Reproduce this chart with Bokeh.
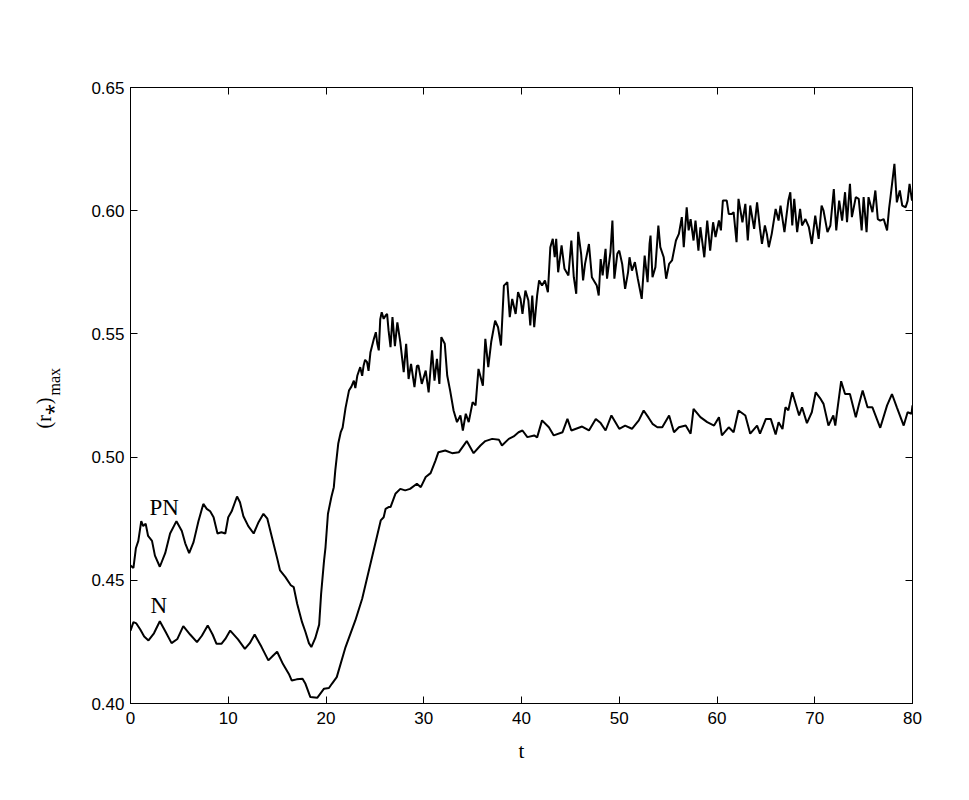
from bokeh.plotting import figure
from bokeh.models import LinearAxis, Range1d, FixedTicker, CustomJSTickFormatter, Title
from bokeh.core.properties import value
from bokeh.embed import file_html
from bokeh.resources import INLINE

# ---- data ----
pn_t = [0.0, 0.3, 0.55, 0.8, 1.1, 1.3, 1.55, 1.8, 2.2, 2.5, 3.0, 3.55, 4.05, 4.7, 5.25, 5.6, 6.0, 6.45,
        6.95, 7.45, 7.8, 8.15, 8.5, 8.9, 9.3, 9.7, 10.0, 10.35, 10.9, 11.2, 11.55, 12.05, 12.6, 13.1,
        13.6, 14.0, 14.5, 15.0, 15.3, 15.85, 16.4, 16.7, 17.05, 17.55, 17.9, 18.25, 18.5, 18.9, 19.3,
        19.5, 19.8, 19.95, 20.2, 20.55, 20.8, 20.95, 21.25, 21.5, 21.7, 22.0, 22.35, 22.6, 22.85, 23.0,
        23.2, 23.5, 23.7, 23.85, 24.0, 24.2, 24.35, 24.55, 24.9, 25.1, 25.25, 25.4, 25.55, 25.7, 25.9,
        26.1, 26.25, 26.4, 26.6, 26.8, 27.05, 27.3, 27.6, 27.95, 28.2, 28.45, 28.7, 29.05, 29.3, 29.45,
        29.8, 30.2, 30.5, 30.85, 31.1, 31.35, 31.6, 31.8, 32.15, 32.4, 32.7, 33.05, 33.4, 33.75, 34.0,
        34.3, 34.6, 35.0, 35.3, 35.6, 36.05, 36.3, 36.6, 36.9, 37.3, 37.6, 37.9, 38.2, 38.55, 38.8,
        39.05, 39.4, 39.65, 39.9, 40.1, 40.4, 40.7, 40.9, 41.1, 41.3, 41.6, 41.8, 42.1, 42.4, 42.7,
        42.95, 43.2, 43.4, 43.55, 43.75, 44.1, 44.4, 44.8, 45.1, 45.35, 45.6, 45.8, 46.1, 46.3, 46.5,
        46.9, 47.2, 47.5, 47.7, 47.9, 48.1, 48.3, 48.6, 48.75, 49.1, 49.3, 49.5, 49.8, 50.0, 50.3, 50.6,
        50.9, 51.05, 51.3, 51.6, 51.9, 52.3, 52.6, 52.9, 53.1, 53.2, 53.4, 53.7, 54.0, 54.2, 54.55, 54.8,
        55.1, 55.4, 55.8, 56.1, 56.4, 56.6, 56.9, 57.1, 57.3, 57.6, 57.8, 58.1, 58.3, 58.7, 59.0, 59.3,
        59.6, 59.85, 60.2, 60.4, 60.6, 61.0, 61.2, 61.5, 61.7, 62.0, 62.2, 62.6, 62.9, 63.15, 63.4, 63.8,
        64.1, 64.4, 64.6, 64.9, 65.1, 65.3, 65.6, 66.0, 66.3, 66.5, 66.9, 67.3, 67.5, 67.7, 67.9, 68.2,
        68.5, 68.7, 69.05, 69.4, 69.7, 70.05, 70.4, 70.7, 70.9, 71.3, 71.6, 71.95, 72.2, 72.5, 72.8,
        73.1, 73.3, 73.6, 73.8, 74.2, 74.5, 74.8, 75.0, 75.3, 75.5, 75.9, 76.2, 76.45, 76.7, 77.05,
        77.4, 77.6, 77.75, 78.15, 78.4, 78.7, 78.95, 79.3, 79.5, 79.7, 79.95, 80.0]
pn_v = [0.456, 0.455, 0.463, 0.466, 0.474, 0.472, 0.473, 0.468, 0.466, 0.460, 0.4555, 0.461, 0.469, 0.474,
        0.470, 0.465, 0.461, 0.4655, 0.474, 0.481, 0.479, 0.478, 0.4756, 0.469, 0.4695, 0.469, 0.4756,
        0.478, 0.484, 0.4817, 0.476, 0.472, 0.469, 0.4736, 0.477, 0.475, 0.467, 0.459, 0.454, 0.4513,
        0.448, 0.4472, 0.4405, 0.433, 0.429, 0.4245, 0.4229, 0.4265, 0.432, 0.4445, 0.458, 0.4634,
        0.477, 0.4838, 0.4878, 0.4946, 0.5054, 0.510, 0.512, 0.520, 0.527, 0.5286, 0.531, 0.528, 0.533,
        0.5365, 0.533, 0.5372, 0.5395, 0.5385, 0.535, 0.5426, 0.548, 0.5507, 0.546, 0.5433, 0.556,
        0.5588, 0.5561, 0.5575, 0.5581, 0.5514, 0.5446, 0.5568, 0.545, 0.5547, 0.5467, 0.5345, 0.546,
        0.5317, 0.5378, 0.5284, 0.537, 0.5372, 0.5297, 0.5351, 0.5263, 0.5433, 0.531, 0.5399, 0.5297,
        0.5487, 0.546, 0.5331, 0.527, 0.5189, 0.5142, 0.5169, 0.5108, 0.5176, 0.5142, 0.5223, 0.521,
        0.5358, 0.529, 0.548, 0.5365, 0.5467, 0.5554, 0.5527, 0.5453, 0.5696, 0.571, 0.5568, 0.5642,
        0.5581, 0.567, 0.5642, 0.5581, 0.5676, 0.5636, 0.5534, 0.5656, 0.5527, 0.5656, 0.5717, 0.5696,
        0.5717, 0.5669, 0.5852, 0.5886, 0.5811, 0.5886, 0.575, 0.5859, 0.5764, 0.5737, 0.5879, 0.573,
        0.5663, 0.5914, 0.5825, 0.5717, 0.5784, 0.5865, 0.573, 0.571, 0.5696, 0.5656, 0.5804, 0.5737,
        0.5845, 0.5724, 0.5832, 0.596, 0.5724, 0.5825, 0.5838, 0.5784, 0.5683, 0.575, 0.5811, 0.5757,
        0.5791, 0.5724, 0.5642, 0.5818, 0.571, 0.5865, 0.5899, 0.573, 0.5771, 0.594, 0.5852, 0.5811,
        0.5724, 0.5784, 0.5798, 0.5879, 0.5906, 0.5974, 0.5852, 0.6014, 0.592, 0.5966, 0.5879, 0.596,
        0.5838, 0.5933, 0.5811, 0.596, 0.5838, 0.5953, 0.5893, 0.596, 0.592, 0.6041, 0.6041, 0.5987,
        0.5987, 0.5994, 0.5872, 0.6048, 0.5953, 0.6028, 0.5879, 0.6021, 0.5926, 0.6034, 0.5926, 0.5865,
        0.594, 0.5906, 0.5852, 0.5906, 0.6007, 0.596, 0.6021, 0.5913, 0.6041, 0.6075, 0.594, 0.6048,
        0.5913, 0.6007, 0.594, 0.5966, 0.5933, 0.5865, 0.598, 0.5886, 0.6021, 0.600, 0.5913, 0.594,
        0.6088, 0.592, 0.6041, 0.596, 0.6075, 0.5953, 0.6109, 0.5974, 0.6055, 0.6048, 0.592, 0.6055,
        0.5913, 0.6055, 0.5994, 0.6082, 0.5966, 0.596, 0.5966, 0.592, 0.6007, 0.6055, 0.619, 0.6034,
        0.6082, 0.6021, 0.6014, 0.604, 0.6109, 0.6041, 0.605]

n_t = [0.0, 0.3, 0.6, 1.0, 1.4, 1.84, 2.4, 3.0, 3.6, 4.2, 4.8, 5.4, 6.1, 6.8, 7.3, 7.9, 8.4, 8.8, 9.3,
       9.7, 10.2, 11.0, 11.7, 12.2, 12.7, 13.4, 14.1, 14.6, 15.0, 15.6, 16.2, 16.5, 17.0, 17.6, 17.9,
       18.4, 19.1, 19.8, 20.3, 20.6, 21.1, 22.0, 23.0, 23.7,
       24.55, 25.6, 25.9, 26.1, 26.4, 26.6, 27.1, 27.6, 28.1, 28.6, 29.3, 29.7, 30.2, 30.7, 31.2, 31.5,
       32.2, 32.9, 33.6, 34.4, 35.1, 35.8, 36.3, 37.0, 37.7, 38.0, 38.7, 39.2, 39.7, 40.1, 40.6, 41.3,
       41.6, 42.1, 42.8, 43.3, 44.2, 44.7, 45.1, 46.2, 46.9, 47.6, 48.1, 48.6, 49.2, 50.0, 50.6, 51.3,
       52.0, 52.5, 53.0, 53.4, 53.9, 54.4, 55.1, 55.6, 56.1, 56.8, 57.3, 57.6, 58.3, 59.0, 59.7, 60.2,
       60.5, 61.2, 61.7, 62.2, 62.9, 63.4, 64.1, 64.4, 65.0, 65.5, 66.0, 66.3, 66.7, 67.0, 67.3, 67.7,
       68.4, 68.7, 69.2, 69.7, 70.1, 70.6, 70.9, 71.4, 71.9, 72.1, 72.7, 73.1, 73.6, 74.2, 74.5, 74.9,
       75.4, 75.9, 76.7, 77.4, 77.9, 78.4, 79.1, 79.5, 79.9, 80.0]
n_v = [0.4296, 0.433, 0.4325, 0.430, 0.4272, 0.4256, 0.4285, 0.4334, 0.429, 0.4245, 0.4262, 0.4314,
       0.428, 0.4249, 0.4275, 0.4317, 0.428, 0.4242, 0.4242, 0.4262, 0.4296, 0.426, 0.4222, 0.4245,
       0.428, 0.423, 0.4175, 0.4195, 0.421, 0.416, 0.412, 0.4093, 0.4098, 0.410, 0.408,
       0.4026, 0.4023, 0.406, 0.4063, 0.408, 0.4107, 0.4229, 0.4337, 0.4425, 0.4567, 0.4743, 0.4756,
       0.479, 0.4797, 0.4797, 0.4851, 0.4871, 0.4865, 0.4871, 0.4892, 0.4878, 0.4919, 0.4935, 0.4986,
       0.502, 0.5027, 0.5016, 0.502, 0.5065, 0.5016, 0.5047, 0.5065, 0.5074, 0.507, 0.5047, 0.5074,
       0.5084, 0.5101, 0.5108, 0.5081, 0.5088, 0.508, 0.5149, 0.5121, 0.5088, 0.5101, 0.5155, 0.5108,
       0.5124, 0.5108, 0.5155, 0.5138, 0.5108, 0.5169, 0.5115, 0.5128, 0.5115, 0.5149, 0.5189, 0.516,
       0.5135, 0.5121, 0.5121, 0.5169, 0.5101, 0.5121, 0.5128, 0.5095, 0.5196, 0.5162, 0.5142, 0.5128,
       0.5162, 0.5088, 0.5121, 0.5101, 0.5189, 0.5169, 0.5095, 0.5128, 0.5095, 0.5155, 0.5155, 0.5092,
       0.5141, 0.5114, 0.5202, 0.519, 0.5263, 0.5169, 0.5202, 0.5138, 0.5182, 0.5263, 0.5236, 0.5216,
       0.5128, 0.5169, 0.5128, 0.5308, 0.5256, 0.5256, 0.5162, 0.521, 0.527, 0.5202, 0.5202, 0.5119,
       0.521, 0.5256, 0.5202, 0.5128, 0.5182, 0.5176, 0.521]

x_ticks = [0, 10, 20, 30, 40, 50, 60, 70, 80]
y_ticks = [0.40, 0.45, 0.50, 0.55, 0.60, 0.65]

# ---- figure ----
W, H = 961, 792
p = figure(width=W, height=H, output_backend="svg", toolbar_location=None,
           x_range=Range1d(0, 80), y_range=Range1d(0.40, 0.65),
           min_border_left=130, min_border_right=49, min_border_top=87, min_border_bottom=89)
p.background_fill_color = "white"
p.border_fill_color = "white"
p.outline_line_color = "black"
p.outline_line_width = 1
p.xgrid.visible = False
p.ygrid.visible = False

tick_font = "Liberation Sans"
for ax in (p.xaxis[0], p.yaxis[0]):
    ax.major_tick_in = 7
    ax.major_tick_out = 0
    ax.minor_tick_line_color = None
    ax.axis_line_color = "black"
    ax.major_tick_line_color = "black"
    ax.major_label_text_font = tick_font
    ax.major_label_text_font_size = "17px"
    ax.major_label_text_color = "black"

p.xaxis[0].ticker = FixedTicker(ticks=x_ticks)
p.yaxis[0].ticker = FixedTicker(ticks=y_ticks)
p.xaxis[0].axis_label = "t"
p.xaxis[0].axis_label_text_font = "Liberation Serif"
p.xaxis[0].axis_label_text_font_style = "normal"
p.xaxis[0].axis_label_text_font_size = "21px"
p.xaxis[0].axis_label_text_color = "black"
p.xaxis[0].major_label_standoff = 8
p.xaxis[0].axis_label_standoff = 12
p.yaxis[0].major_label_standoff = 6
p.yaxis[0].formatter = CustomJSTickFormatter(code="return tick.toFixed(2);")

blank = CustomJSTickFormatter(code="return '';")
top = LinearAxis(ticker=FixedTicker(ticks=x_ticks), formatter=blank,
                 major_tick_in=7, major_tick_out=0, minor_tick_line_color=None,
                 major_label_text_font_size="1px")
right = LinearAxis(ticker=FixedTicker(ticks=y_ticks), formatter=blank,
                   major_tick_in=7, major_tick_out=0, minor_tick_line_color=None,
                   major_label_text_font_size="1px")
p.add_layout(top, "above")
p.add_layout(right, "right")

# y-axis label (r_*)_max as two side titles (subscript part nearer the axis)
t_max = Title(text="max", align="left", offset=308, standoff=52,
              text_font="Liberation Serif", text_font_style="normal",
              text_font_size="16px", text_color="black")
t_main = Title(text="(r\u204e)", align="left", offset=275, standoff=-74,
               text_font="Liberation Serif", text_font_style="normal",
               text_font_size="20px", text_color="black")
p.add_layout(t_max, "left")
p.add_layout(t_main, "left")

p.line(pn_t, pn_v, line_color="black", line_width=2)
p.line(n_t, n_v, line_color="black", line_width=2)

p.text(x=[1.94], y=[0.4795], text=["PN"], text_font=value("Liberation Serif"),
       text_font_size="23px", text_align="left", text_baseline="middle", text_color="black")
p.text(x=[2.05], y=[0.4398], text=["N"], text_font=value("Liberation Serif"),
       text_font_size="23px", text_align="left", text_baseline="middle", text_color="black")

open("out.html", "w").write(file_html(p, INLINE))
